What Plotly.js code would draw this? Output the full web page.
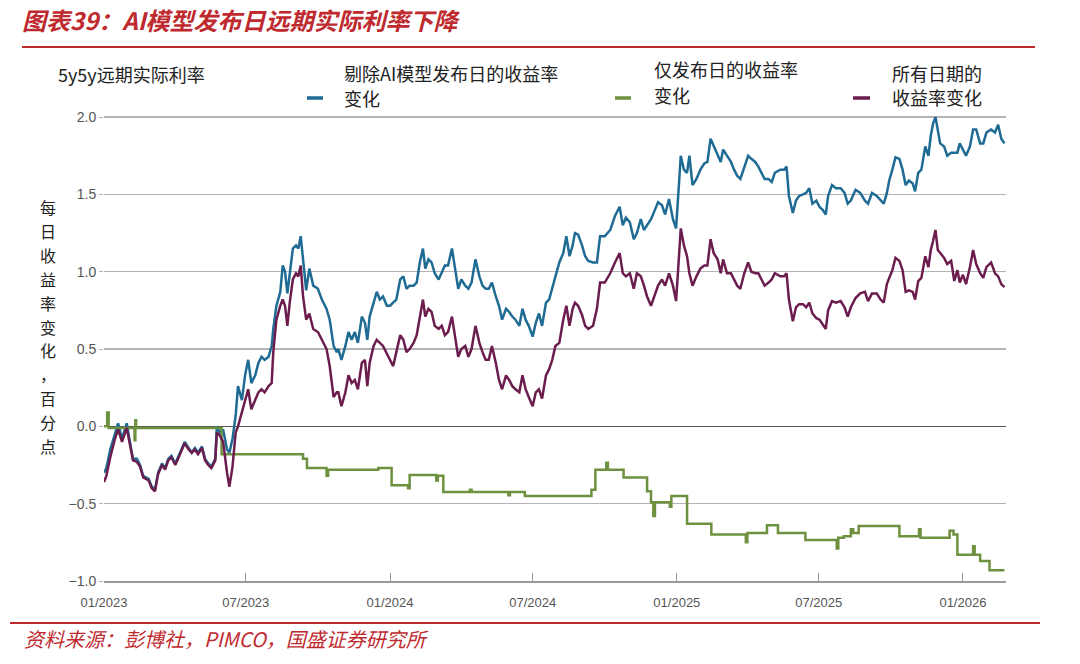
<!DOCTYPE html>
<html>
<head>
<meta charset="utf-8">
<script src="https://cdn.plot.ly/plotly-3.0.1.min.js"></script>
<style>
  html, body { margin: 0; padding: 0; background: #fff; }
  #chart { width: 1080px; height: 664px; }
</style>
</head>
<body>
<div id="chart"></div>
<script>
// days since 2023-01-01
var dayOffsets = [
  0, 3, 8, 14, 18, 23, 29, 33, 37, 42,
  46, 50, 57, 61, 65, 69, 74, 78, 82, 86,
  91, 97, 103, 108, 112, 116, 120, 125, 129, 133,
  137, 142, 144, 148, 152, 157, 160, 164, 168, 171,
  176, 180, 184, 188, 193, 197, 201, 205, 210, 214,
  216, 220, 225, 228, 231, 234, 237, 241, 245, 248,
  251, 254, 258, 262, 267, 273, 278, 284, 288, 293,
  297, 299, 303, 308, 312, 316, 320, 324, 329, 333,
  336, 339, 344, 348, 352, 356, 361, 365, 369, 373,
  378, 382, 386, 390, 395, 399, 403, 407, 410, 414,
  418, 422, 427, 431, 435, 439, 444, 448, 452, 456,
  461, 465, 469, 474, 479, 483, 487, 491, 495, 500,
  504, 508, 513, 517, 521, 525, 530, 534, 538, 542,
  547, 551, 555, 559, 564, 568, 572, 576, 581, 586,
  590, 594, 598, 601, 605, 610, 614, 618, 624, 629,
  633, 639, 646, 652, 658, 662, 666, 671, 676, 680,
  685, 689, 693, 698, 703, 707, 712, 716, 721, 726,
  730, 733, 736, 740, 744, 747, 751, 756, 761, 766,
  770, 774, 778, 783, 787, 790, 795, 800, 804, 808,
  812, 817, 822, 826, 831, 835, 839, 843, 848, 852,
  856, 863, 868, 871, 874, 879, 883, 887, 892, 896,
  900, 904, 909, 913, 917, 921, 924, 929, 934, 940,
  945, 949, 953, 959, 965, 971, 975, 980, 986, 991,
  995, 999, 1002, 1006, 1010, 1015, 1019, 1023, 1027, 1032,
  1035, 1039, 1043, 1048, 1052, 1055, 1058, 1061, 1064, 1067,
  1072, 1076, 1081, 1085, 1089, 1092, 1096, 1100, 1105, 1109,
  1113, 1118, 1122, 1126, 1132, 1137, 1141, 1145, 1149
];

// 剔除AI模型发布日的收益率变化
var exclRelease = [
  -0.30, -0.27, -0.15, -0.04, 0.02, -0.08, 0.02, -0.10, -0.21, -0.21,
  -0.25, -0.32, -0.34, -0.39, -0.41, -0.30, -0.24, -0.27, -0.21, -0.19,
  -0.24, -0.17, -0.10, -0.14, -0.17, -0.14, -0.17, -0.13, -0.21, -0.24,
  -0.26, -0.21, 0.00, -0.04, -0.02, -0.15, -0.17, -0.08, 0.07, 0.26,
  0.17, 0.33, 0.43, 0.28, 0.33, 0.41, 0.45, 0.43, 0.45, 0.52,
  0.63, 0.78, 0.87, 1.04, 1.00, 0.86, 0.97, 1.15, 1.17, 1.15,
  1.23, 1.06, 0.88, 1.02, 0.91, 0.89, 0.82, 0.76, 0.69, 0.52,
  0.48, 0.50, 0.43, 0.52, 0.61, 0.56, 0.61, 0.54, 0.71, 0.67,
  0.56, 0.71, 0.80, 0.87, 0.82, 0.84, 0.78, 0.78, 0.80, 0.82,
  0.95, 0.97, 0.89, 0.91, 0.91, 0.93, 1.06, 1.15, 1.02, 1.08,
  1.06, 0.99, 0.95, 0.99, 1.04, 1.04, 1.15, 1.02, 0.89, 0.95,
  0.91, 0.89, 0.93, 1.08, 0.97, 0.91, 0.89, 0.89, 0.93, 0.84,
  0.78, 0.69, 0.76, 0.74, 0.71, 0.69, 0.65, 0.76, 0.69, 0.65,
  0.58, 0.67, 0.73, 0.65, 0.80, 0.82, 0.89, 0.97, 1.06, 1.12,
  1.23, 1.10, 1.17, 1.25, 1.24, 1.17, 1.10, 1.07, 1.06, 1.06,
  1.23, 1.23, 1.27, 1.36, 1.42, 1.30, 1.35, 1.32, 1.21, 1.25,
  1.34, 1.27, 1.30, 1.34, 1.40, 1.45, 1.43, 1.37, 1.47, 1.34,
  1.28, 1.49, 1.75, 1.66, 1.64, 1.75, 1.56, 1.60, 1.66, 1.70,
  1.71, 1.86, 1.81, 1.75, 1.71, 1.79, 1.75, 1.71, 1.66, 1.62,
  1.60, 1.68, 1.75, 1.73, 1.71, 1.68, 1.64, 1.60, 1.60, 1.58,
  1.64, 1.66, 1.66, 1.68, 1.49, 1.38, 1.46, 1.49, 1.50, 1.51,
  1.54, 1.44, 1.46, 1.42, 1.40, 1.37, 1.49, 1.56, 1.54, 1.54,
  1.51, 1.44, 1.46, 1.53, 1.51, 1.46, 1.44, 1.51, 1.49, 1.46,
  1.44, 1.51, 1.59, 1.66, 1.74, 1.73, 1.66, 1.56, 1.59, 1.57,
  1.52, 1.64, 1.66, 1.81, 1.75, 1.88, 1.96, 2.00, 1.92, 1.83,
  1.81, 1.75, 1.77, 1.77, 1.77, 1.83, 1.79, 1.75, 1.81, 1.92,
  1.92, 1.83, 1.83, 1.90, 1.92, 1.90, 1.95, 1.86, 1.83
];

// 所有日期的收益率变化
var allDays = [
  -0.36, -0.32, -0.20, -0.08, -0.02, -0.10, -0.01, -0.12, -0.22, -0.23,
  -0.26, -0.33, -0.35, -0.40, -0.42, -0.31, -0.25, -0.28, -0.22, -0.20,
  -0.25, -0.18, -0.11, -0.15, -0.17, -0.15, -0.18, -0.14, -0.22, -0.25,
  -0.27, -0.22, -0.04, -0.06, -0.10, -0.30, -0.39, -0.26, -0.04, 0.00,
  0.09, 0.17, 0.24, 0.11, 0.17, 0.22, 0.24, 0.22, 0.26, 0.28,
  0.48, 0.69, 0.78, 0.82, 0.78, 0.65, 0.80, 0.95, 0.99, 0.97,
  1.04, 0.84, 0.69, 0.73, 0.63, 0.61, 0.56, 0.50, 0.39, 0.19,
  0.22, 0.22, 0.13, 0.22, 0.33, 0.28, 0.30, 0.24, 0.41, 0.43,
  0.26, 0.41, 0.52, 0.56, 0.54, 0.52, 0.47, 0.43, 0.39, 0.48,
  0.59, 0.56, 0.48, 0.50, 0.54, 0.59, 0.71, 0.82, 0.71, 0.76,
  0.74, 0.65, 0.63, 0.65, 0.59, 0.61, 0.71, 0.59, 0.45, 0.50,
  0.52, 0.45, 0.50, 0.65, 0.54, 0.48, 0.43, 0.43, 0.52, 0.41,
  0.30, 0.24, 0.33, 0.30, 0.26, 0.24, 0.22, 0.33, 0.24, 0.19,
  0.13, 0.22, 0.24, 0.18, 0.33, 0.37, 0.43, 0.52, 0.54, 0.69,
  0.78, 0.65, 0.76, 0.80, 0.78, 0.72, 0.65, 0.63, 0.65, 0.76,
  0.93, 0.93, 0.99, 1.06, 1.12, 0.99, 0.97, 0.99, 0.89, 0.99,
  0.97, 0.91, 0.84, 0.78, 0.85, 0.91, 0.95, 0.91, 0.99, 0.91,
  0.81, 1.02, 1.28, 1.17, 1.10, 0.99, 0.91, 0.97, 1.02, 1.04,
  1.04, 1.21, 1.12, 1.08, 0.99, 1.08, 0.99, 0.99, 0.95, 0.91,
  0.89, 0.99, 1.06, 1.00, 0.99, 0.99, 0.95, 0.91, 0.93, 0.95,
  0.99, 0.97, 0.97, 0.99, 0.82, 0.68, 0.77, 0.79, 0.79, 0.77,
  0.80, 0.73, 0.70, 0.69, 0.66, 0.63, 0.75, 0.81, 0.80, 0.81,
  0.77, 0.71, 0.77, 0.83, 0.86, 0.87, 0.81, 0.86, 0.86, 0.82,
  0.80, 0.92, 0.96, 1.01, 1.09, 1.07, 1.01, 0.87, 0.88, 0.87,
  0.82, 0.94, 0.96, 1.10, 1.03, 1.14, 1.20, 1.27, 1.14, 1.12,
  1.09, 1.05, 1.07, 0.94, 1.01, 0.93, 0.98, 0.92, 1.03, 1.14,
  1.05, 0.99, 0.96, 1.03, 1.06, 0.99, 0.97, 0.92, 0.90
];

// 仅发布日的收益率变化 (step line, days since 2023-01-01)
var releaseOffsets = [
  0, 4, 6, 39, 40, 41, 150, 254, 259, 284,
  286, 350, 367, 388, 390, 424, 426, 433, 467, 469,
  516, 518, 537, 622, 627, 641, 643, 663, 693, 698,
  701, 703, 722, 724, 744, 775, 819, 821, 846, 860,
  895, 935, 937, 944, 953, 956, 963, 1015, 1040, 1042,
  1079, 1084, 1089, 1109, 1111, 1118, 1130, 1149
];
var releaseOnly = [
  0.00, 0.09, -0.01, -0.09, 0.04, -0.01, -0.18, -0.21, -0.27, -0.32,
  -0.28, -0.27, -0.38, -0.40, -0.315, -0.35, -0.32, -0.425, -0.41, -0.425,
  -0.445, -0.425, -0.45, -0.41, -0.28, -0.235, -0.28, -0.33, -0.42, -0.49,
  -0.58, -0.49, -0.52, -0.45, -0.63, -0.70, -0.75, -0.69, -0.64, -0.69,
  -0.735, -0.79, -0.72, -0.71, -0.665, -0.69, -0.645, -0.71, -0.665, -0.72,
  -0.675, -0.70, -0.83, -0.775, -0.83, -0.87, -0.93, -0.93
];

// legend text, split in the two lines the reference uses
var seriesNames = ['剔除AI模型发布日的收益率变化', '仅发布日的收益率变化', '所有日期的收益率变化'];
var legendLines = [
  ['剔除AI模型发布日的收益率', '变化'],
  ['仅发布日的收益率', '变化'],
  ['所有日期的', '收益率变化']
];

var yTitleChars = ['每', '日', '收', '益', '率', '变', '化', '，', '百', '分', '点'];

var RED = '#BF2A2F';
var BLUE = '#1F6B94';
var GREEN = '#6E9140';
var PURPLE = '#6B1D4E';
var CJK = 'Noto Sans CJK SC, sans-serif';
var NUM = 'Liberation Sans Narrow, Liberation Sans, sans-serif';

function offsetToDate(d) {
  var t = new Date(Date.UTC(2023, 0, 1) + d * 86400000);
  return t.toISOString().slice(0, 10);
}

// pixel -> paper helpers (plot area 104..1006 x 114..581)
function px(x) { return (x - 104) / 902; }
function py(y) { return (581 - y) / 467; }

var dates = dayOffsets.map(offsetToDate);
var releaseDates = releaseOffsets.map(offsetToDate);

var data = [
  {
    x: dates, y: exclRelease, type: 'scatter', mode: 'lines',
    name: seriesNames[0],
    line: { color: BLUE, width: 2.5 }
  },
  {
    x: releaseDates, y: releaseOnly, type: 'scatter', mode: 'lines',
    name: seriesNames[1],
    line: { color: GREEN, width: 2.5, shape: 'hv' }
  },
  {
    x: dates, y: allDays, type: 'scatter', mode: 'lines',
    name: seriesNames[2],
    line: { color: PURPLE, width: 2.5 }
  }
];

// hand-placed legend: [text x, line1 y, line2 y, dash x0, dash x1, dash y]
var legendPos = [
  [342, 73, 98, 307, 323, 98],
  [652, 69, 95, 615, 631, 98],
  [890, 73, 97, 853, 870, 98]
];
var legendColors = [BLUE, GREEN, PURPLE];

var annotations = [
  {
    text: '5y5y远期实际利率', xref: 'paper', yref: 'paper',
    x: px(56), y: py(74), xanchor: 'left', yanchor: 'middle', showarrow: false,
    font: { family: CJK, size: 18, color: '#222' }
  },
  {
    text: '<i>资料来源：彭博社，PIMCO，国盛证券研究所</i>', xref: 'paper', yref: 'paper',
    x: px(22), y: py(638), xanchor: 'left', yanchor: 'middle', showarrow: false,
    font: { family: CJK, size: 20, color: RED }
  }
];
var shapes = [
  { type: 'line', xref: 'paper', yref: 'paper', x0: px(22), x1: px(1035), y0: py(47), y1: py(47),
    line: { color: RED, width: 2 } },
  { type: 'line', xref: 'paper', yref: 'paper', x0: px(10), x1: px(1040), y0: py(623), y1: py(623),
    line: { color: RED, width: 2 } }
];

legendLines.forEach(function(lines, i) {
  var p = legendPos[i];
  annotations.push({
    text: lines[0], xref: 'paper', yref: 'paper', x: px(p[0]), y: py(p[1]),
    xanchor: 'left', yanchor: 'middle', showarrow: false,
    font: { family: CJK, size: 18, color: '#222' }
  });
  annotations.push({
    text: lines[1], xref: 'paper', yref: 'paper', x: px(p[0]), y: py(p[2]),
    xanchor: 'left', yanchor: 'middle', showarrow: false,
    font: { family: CJK, size: 18, color: '#222' }
  });
  shapes.push({
    type: 'line', xref: 'paper', yref: 'paper', x0: px(p[3]), x1: px(p[4]), y0: py(p[5]), y1: py(p[5]),
    line: { color: legendColors[i], width: 3.5 }
  });
});

yTitleChars.forEach(function(c, i) {
  annotations.push({
    text: c, xref: 'paper', yref: 'paper',
    x: px(48), y: py(207 + i * 23.9), xanchor: 'center', yanchor: 'middle',
    showarrow: false, font: { family: CJK, size: 16, color: '#222' }
  });
});

var layout = {
  width: 1080, height: 664,
  margin: { l: 104, r: 74, t: 114, b: 83 },
  paper_bgcolor: '#fff', plot_bgcolor: '#fff',
  title: {
    text: '<b><i>图表39：AI模型发布日远期实际利率下降</i></b>',
    font: { family: CJK, size: 24, color: RED },
    x: 22 / 1080, xref: 'container', xanchor: 'left',
    y: 1 - 22 / 664, yref: 'container', yanchor: 'middle'
  },
  xaxis: {
    type: 'date',
    range: ['2023-01-01', '2026-02-25'],
    tick0: '2023-01-01', dtick: 'M6', tickformat: '%m/%Y',
    ticks: 'inside', ticklen: 8, tickcolor: '#9a9a9a', tickwidth: 1,
    showline: true, linecolor: '#9a9a9a', linewidth: 1.5,
    showgrid: false, zeroline: false,
    ticklabelstandoff: 9,
    tickfont: { family: NUM, size: 13, color: '#555' }
  },
  yaxis: {
    range: [-1, 2.02], dtick: 0.5, tick0: 0, tickformat: '.1f',
    showgrid: true, gridcolor: '#b4b4b4', gridwidth: 1.3,
    zeroline: true, zerolinecolor: '#555', zerolinewidth: 1.5,
    ticks: 'outside', ticklen: 4, tickcolor: '#b4b4b4',
    showline: false,
    tickfont: { family: NUM, size: 14, color: '#555' }
  },
  showlegend: false,
  annotations: annotations,
  shapes: shapes
};

Plotly.newPlot('chart', data, layout, { displayModeBar: false, staticPlot: true });
</script>
</body>
</html>
